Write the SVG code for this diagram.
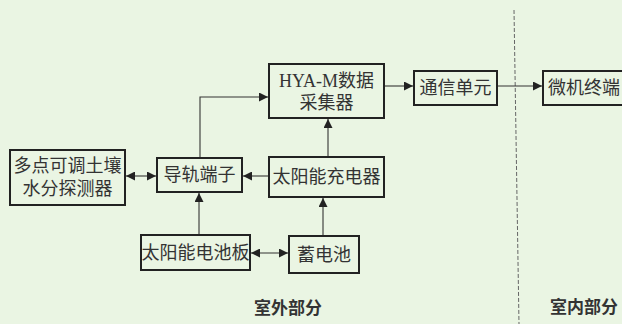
<svg xmlns="http://www.w3.org/2000/svg" width="622" height="324" viewBox="0 0 622 324">
<defs>
<marker id="ah" viewBox="0 0 10 10" refX="10" refY="5" markerWidth="9" markerHeight="9" markerUnits="userSpaceOnUse" orient="auto-start-reverse">
<path d="M0,0 L10,5 L0,10 z" fill="#222"/>
</marker>
<style>
.box{fill:none;stroke:#222;stroke-width:2}
.t{font-family:"Liberation Serif","Noto Sans CJK SC",serif;font-size:18px;fill:#333;text-anchor:middle;dominant-baseline:central}
.c{fill:none;stroke:#333;stroke-width:1.1}
.lbl{font-family:"Noto Sans CJK SC",sans-serif;font-size:17px;font-weight:bold;fill:#333;text-anchor:middle;dominant-baseline:central}
</style>
</defs>
<rect width="622" height="324" fill="#eaf5e3"/>
<line x1="514" y1="10" x2="519" y2="324" stroke="#666" stroke-width="1" stroke-dasharray="4,2"/>
<g id="connectors">
<line class="c" x1="126" y1="176" x2="156" y2="176" marker-start="url(#ah)" marker-end="url(#ah)"/>
<line class="c" x1="269" y1="176" x2="243" y2="176" marker-end="url(#ah)"/>
<polyline class="c" points="200,158 200,97 268,97" marker-end="url(#ah)"/>
<line class="c" x1="328" y1="157" x2="328" y2="119" marker-end="url(#ah)"/>
<line class="c" x1="384" y1="86" x2="413" y2="86" marker-end="url(#ah)"/>
<line class="c" x1="497" y1="86" x2="542" y2="86" marker-end="url(#ah)"/>
<line class="c" x1="199" y1="235" x2="199" y2="193" marker-end="url(#ah)"/>
<line class="c" x1="323" y1="236" x2="323" y2="198" marker-end="url(#ah)"/>
<line class="c" x1="251" y1="253" x2="288" y2="253" marker-start="url(#ah)" marker-end="url(#ah)"/>
</g>
<g id="detector">
<rect class="box" x="10" y="150" width="115" height="55"/>
<text class="t" x="67.5" y="166">多点可调土壤</text>
<text class="t" x="67.5" y="189">水分探测器</text>
</g>
<g id="terminal">
<rect class="box" x="157" y="158" width="85" height="34"/>
<text class="t" x="199.5" y="175">导轨端子</text>
</g>
<g id="collector">
<rect class="box" x="269" y="64" width="115" height="54"/>
<text class="t" x="326.5" y="81">HYA-M数据</text>
<text class="t" x="326.5" y="103">采集器</text>
</g>
<g id="comm">
<rect class="box" x="414" y="71" width="83" height="34"/>
<text class="t" x="455.5" y="88">通信单元</text>
</g>
<g id="pc">
<rect class="box" x="543" y="71" width="85" height="34"/>
<text class="t" x="584" y="88">微机终端</text>
</g>
<g id="charger">
<rect class="box" x="269" y="157" width="115" height="40"/>
<text class="t" x="326.5" y="177">太阳能充电器</text>
</g>
<g id="panel">
<rect class="box" x="141" y="235" width="109" height="35"/>
<text class="t" x="195.5" y="252.5">太阳能电池板</text>
</g>
<g id="battery">
<rect class="box" x="289" y="236" width="70" height="37"/>
<text class="t" x="324" y="254.5">蓄电池</text>
</g>
<text class="lbl" x="288" y="306">室外部分</text>
<text class="lbl" x="584" y="305">室内部分</text>
</svg>
